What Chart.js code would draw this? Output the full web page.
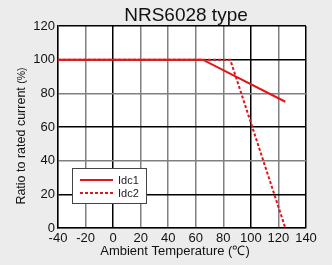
<!DOCTYPE html>
<html>
<head>
<meta charset="utf-8">
<script src="https://cdn.jsdelivr.net/npm/chart.js@4"></script>
<style>
  body { margin: 0; background: #ececec; }
  #wrap { width: 332px; height: 265px; }
</style>
</head>
<body>
<div id="wrap"><canvas id="myChart"></canvas></div>
<script>
// derating curves
const idc1Temp = [-40, 65, 125];
const idc1Ratio = [100, 100, 75];
const idc2Temp = [-40, 85, 125];
const idc2Ratio = [100, 100, 0];
const xTicks = [-40, -20, 0, 20, 40, 60, 80, 100, 120, 140];
const yTicks = [0, 20, 40, 60, 80, 100, 120];

const titleText = 'NRS6028 type';
const xTitle = 'Ambient Temperature (℃)';
const yTitle = 'Ratio to rated current ';
const yUnit = '(%)';

const red = '#e2141c';
const font = 'Liberation Sans, Arial, Helvetica, sans-serif';

function pts(xs, ys) {
  return xs.map((x, i) => ({ x: x, y: ys[i] }));
}

// white plot area, titles and the legend box inside the plot
const decor = {
  id: 'decor',
  beforeDraw(chart) {
    const a = chart.chartArea, c = chart.ctx;
    c.save();
    c.fillStyle = '#fff';
    c.fillRect(a.left, a.top, a.right - a.left, a.bottom - a.top);
    c.restore();
  },
  afterDraw(chart) {
    const a = chart.chartArea, c = chart.ctx;
    c.save();
    c.fillStyle = '#111';
    c.textBaseline = 'alphabetic';
    c.textAlign = 'center';

    // chart title
    c.font = '19px ' + font;
    c.fillText(titleText, a.left + 128, 21);

    // x title
    c.font = '13px ' + font;
    c.fillText(xTitle, a.left + 117, 255);

    // y title, unit a bit smaller
    c.save();
    c.translate(24.5, a.top + 110);
    c.rotate(-Math.PI / 2);
    c.textAlign = 'left';
    c.font = '12.5px ' + font;
    const w1 = c.measureText(yTitle).width;
    c.font = '10.5px ' + font;
    const w2 = c.measureText(yUnit).width;
    const x0 = -(w1 + w2) / 2;
    c.font = '12.5px ' + font;
    c.fillText(yTitle, x0, 0);
    c.font = '10.5px ' + font;
    c.fillText(yUnit, x0 + w1, 0);
    c.restore();

    // legend
    const bx = a.left + 14, by = a.bottom - 60, bw = 74, bh = 35;
    c.fillStyle = '#fff';
    c.fillRect(bx, by, bw, bh);
    c.strokeStyle = '#444';
    c.lineWidth = 1;
    c.strokeRect(bx + 0.5, by + 0.5, bw, bh);
    chart.data.datasets.forEach((ds, i) => {
      const y = by + 12 + i * 13;
      c.beginPath();
      c.strokeStyle = ds.borderColor;
      c.lineWidth = 2;
      c.setLineDash(ds.borderDash || []);
      c.moveTo(bx + 8, y);
      c.lineTo(bx + 41, y);
      c.stroke();
      c.setLineDash([]);
      c.fillStyle = '#222';
      c.font = '11px ' + font;
      c.textAlign = 'left';
      c.textBaseline = 'middle';
      c.fillText(ds.label, bx + 46, y + 0.5);
    });
    c.restore();
  }
};

const ctx = document.getElementById('myChart');

new Chart(ctx, {
  type: 'line',
  data: {
    datasets: [{
      label: 'Idc1',
      data: pts(idc1Temp, idc1Ratio),
      borderColor: red,
      borderWidth: 2,
      pointRadius: 0,
      tension: 0
    }, {
      label: 'Idc2',
      data: pts(idc2Temp, idc2Ratio),
      borderColor: red,
      borderWidth: 2,
      borderDash: [3, 2],
      pointRadius: 0,
      tension: 0
    }]
  },
  options: {
    responsive: true,
    maintainAspectRatio: false,
    animation: false,
    layout: { padding: { left: 0, right: 26, top: 26, bottom: 0 } },
    plugins: {
      legend: { display: false },
      tooltip: { enabled: false },
      title: { display: false }
    },
    scales: {
      x: {
        type: 'linear',
        min: -40,
        max: 140,
        afterBuildTicks: s => { s.ticks = xTicks.map(v => ({ value: v })); },
        afterFit: s => { s.height = 37; },
        border: { display: true, color: '#000', width: 1.5 },
        grid: {
          drawTicks: false,
          lineWidth: 1.5,
          color: c => ([0, 100, 140].includes(c.tick && c.tick.value) ? '#000' : '#808080')
        },
        ticks: { color: '#111', padding: 3, maxRotation: 0, font: { family: font, size: 13 } }
      },
      y: {
        min: 0,
        max: 120,
        afterBuildTicks: s => { s.ticks = yTicks.map(v => ({ value: v })); },
        afterFit: s => { s.width = 58; },
        border: { display: true, color: '#000', width: 1.5 },
        grid: {
          drawTicks: false,
          lineWidth: 1.5,
          color: c => ([20, 60, 100, 120].includes(c.tick && c.tick.value) ? '#000' : '#808080')
        },
        ticks: { color: '#111', padding: 3, font: { family: font, size: 13 } }
      }
    }
  },
  plugins: [decor]
});
</script>
</body>
</html>
